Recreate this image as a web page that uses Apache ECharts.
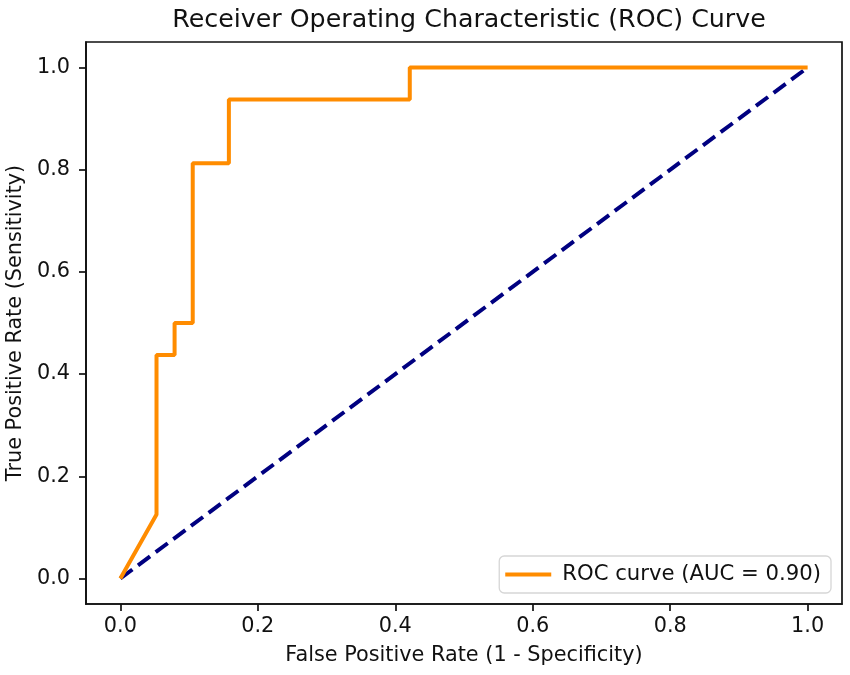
<!DOCTYPE html>
<html>
<head>
<meta charset="utf-8">
<script src="https://cdn.jsdelivr.net/npm/echarts@6/dist/echarts.min.js"></script>
<style>
  html, body { margin: 0; padding: 0; background: #fff; }
  #chart { width: 850px; height: 675px; }
</style>
</head>
<body>
<div id="chart"></div>
<script>
// ROC curve values
const fpr = [0, 0.0526, 0.0526, 0.0789, 0.0789, 0.1053, 0.1053, 0.1579, 0.1579, 0.4211, 0.4211, 1.0]
const tpr = [0, 0.125, 0.4375, 0.4375, 0.5, 0.5, 0.8125, 0.8125, 0.9375, 0.9375, 1.0, 1.0]
// chance line
const chanceX = [0, 1]
const chanceY = [0, 1]
// tick labels
const ticks = [0, 0.2, 0.4, 0.6, 0.8, 1.0]

const rocName = 'ROC curve (AUC = 0.90)'
const font = 'DejaVu Sans'
const ink = '#111'

let chart = echarts.init(document.getElementById('chart'))

function axisOpt(name, gap, labelMargin) {
  return {
    type: 'value',
    min: -0.05,
    max: 1.05,
    name: name,
    nameLocation: 'middle',
    nameGap: gap,
    nameTextStyle: { fontFamily: font, fontSize: 20.8, color: ink },
    splitLine: { show: false },
    axisLine: { show: true, onZero: false, lineStyle: { color: ink, width: 1.7 } },
    axisTick: {
      show: true,
      inside: false,
      length: 7,
      lineStyle: { color: ink, width: 1.7 },
      customValues: ticks
    },
    axisLabel: {
      fontFamily: font,
      fontSize: 20.8,
      color: ink,
      margin: labelMargin,
      customValues: ticks,
      formatter: v => v.toFixed(1)
    }
  }
}

chart.setOption({
  animation: false,
  title: {
    text: 'Receiver Operating Characteristic (ROC) Curve',
    left: 464,
    top: 3,
    textAlign: 'center',
    textStyle: { fontFamily: font, fontSize: 25.3, fontWeight: 'normal', color: ink }
  },
  //坐标区的边框
  grid: {
    left: 86,
    right: 8,
    top: 42,
    bottom: 71,
    containLabel: false,
    outerBoundsMode: 'none',
    show: true,
    borderColor: ink,
    borderWidth: 1.7
  },
  legend: {
    data: [rocName],
    right: 19,
    bottom: 82,
    icon: 'rect',
    itemWidth: 46,
    itemHeight: 4,
    padding: [8, 10, 8, 6],
    backgroundColor: '#fff',
    borderColor: '#d6d6d6',
    borderWidth: 1.3,
    borderRadius: 5,
    textStyle: { fontFamily: font, fontSize: 21.2, lineHeight: 21, color: ink, padding: [0, 0, 0, 6] }
  },
  xAxis: axisOpt('False Positive Rate (1 - Specificity)', 41, 12),
  yAxis: axisOpt('True Positive Rate (Sensitivity)', 54, 16),
  series: [
    {
      name: rocName,
      type: 'line',
      data: fpr.map((x, i) => [x, tpr[i]]),
      showSymbol: false,
      symbol: 'none',
      lineStyle: { color: '#ff8c00', width: 4 },
      itemStyle: { color: '#ff8c00' },
      z: 3
    },
    {
      name: 'chance',
      type: 'line',
      data: chanceX.map((x, i) => [x, chanceY[i]]),
      showSymbol: false,
      symbol: 'none',
      lineStyle: { color: '#000080', width: 4, type: [15, 7] },
      z: 2
    }
  ]
})
</script>
</body>
</html>
